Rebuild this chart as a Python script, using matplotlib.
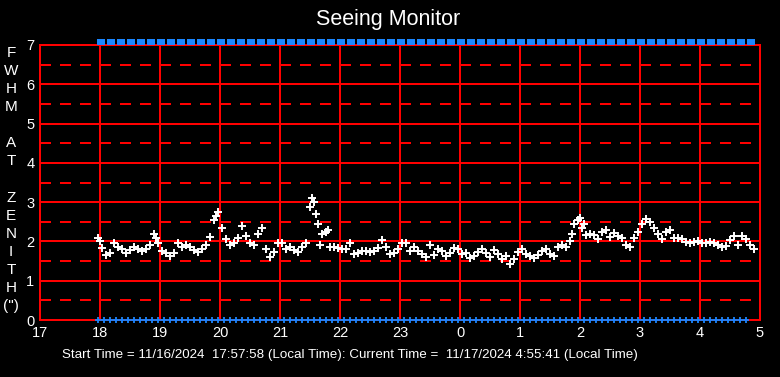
import numpy as np
import matplotlib.pyplot as plt

plt.rcParams['font.family'] = ['Liberation Sans', 'DejaVu Sans']

# seeing samples, every 4 minutes starting 17:58 (minutes after 18:00)
t_start = -2
t_step = 4
fwhm = [2.1, 1.83, 1.65, 1.7, 1.95, 1.87, 1.8, 1.7, 1.78, 1.85, 1.82, 1.75, 1.8, 1.9, 2.2, 1.95,
        1.75, 1.7, 1.62, 1.7, 1.95, 1.85, 1.9, 1.85, 1.77, 1.72, 1.8, 1.92, 2.12, 2.55, 2.75,
        2.35, 2.05, 1.92, 1.95, 2.1, 2.4, 2.15, 1.95, 1.9, 2.2, 2.33, 1.8, 1.6, 1.72, 1.97,
        1.95, 1.82, 1.87, 1.78, 1.72, 1.87, 1.95, 2.87, 3.0, 2.45, 2.2, 2.25, 1.85, 1.85, 1.83,
        1.8, 1.8, 1.95, 1.68, 1.7, 1.75, 1.75, 1.73, 1.75, 1.83, 2.04, 1.85, 1.67, 1.7, 1.8,
        1.97, 1.95, 1.75, 1.85, 1.75, 1.68, 1.6, 1.92, 1.65, 1.8, 1.75, 1.62, 1.7, 1.83, 1.8,
        1.67, 1.7, 1.58, 1.63, 1.72, 1.82, 1.7, 1.6, 1.78, 1.67, 1.55, 1.62, 1.42, 1.55, 1.72,
        1.8, 1.68, 1.62, 1.58, 1.65, 1.75, 1.82, 1.68, 1.62, 1.87, 1.92, 1.85, 2.0, 2.45, 2.55,
        2.35, 2.17, 2.18, 2.17, 2.05, 2.25, 2.3, 2.12, 2.22, 2.15, 2.1, 1.92, 1.85, 2.1, 2.25,
        2.45, 2.58, 2.5, 2.35, 2.2, 2.05, 2.25, 2.3, 2.1, 2.08, 2.05, 1.98, 1.96, 1.98, 2.02,
        1.97, 1.95, 1.98, 1.97, 1.9, 1.87, 1.88, 2.03, 2.15, 1.9, 2.15, 2.05, 1.9, 1.82]

# a few stray samples (minutes after 18:00)
extra_t = [0, 56, 116, 212, 216, 220, 228, 472, 480, 484]
extra_v = [2.0, 2.1, 2.65, 3.1, 2.7, 1.92, 2.3, 2.2, 2.6, 2.45]

hour_labels = ['17', '18', '19', '20', '21', '22', '23', '0', '1', '2', '3', '4', '5']
ylabel = 'FWHM AT ZENITH'
start_txt = '11/16/2024  17:57:58'
current_txt = '11/17/2024 4:55:41'

red = '#ff0000'
blue = '#1a86ff'

x = 18 + (t_start + t_step * np.arange(len(fwhm))) / 60.0
xe = 18 + np.array(extra_t) / 60.0

fig = plt.figure(figsize=(7.8, 3.77), dpi=100, facecolor='black')
ax = fig.add_axes([40/780, 1-320/377, 720/780, 275/377], facecolor='black')
ax.set_xlim(17, 29)
ax.set_ylim(0, 7)

# grid
for y in range(1, 7):
    ax.axhline(y, color=red, lw=1.44, zorder=1)
for y in np.arange(0.5, 7, 1.0):
    ax.axhline(y, color=red, lw=1.44, ls=(0, (5.5, 4.5)), zorder=1)
for h in range(18, 29):
    ax.axvline(h, color=red, lw=1.44, zorder=1)
for s in ax.spines.values():
    s.set_color(red)
    s.set_linewidth(1.44)

# status markers along top and bottom
bot_t = np.arange(-2, 651, 6)
ax.plot(18 + bot_t / 60.0, np.zeros(len(bot_t)), '+', color=blue, ms=5, mew=1.3,
        clip_on=False, zorder=4)
top_t = np.arange(1, 652, 10)
rect = [(-1, -0.68), (1, -0.68), (1, 0.68), (-1, 0.68), (-1, -0.68)]
ax.plot(18 + top_t / 60.0, np.full(len(top_t), 7.065), ls='none', marker=rect, ms=6.4,
        color=blue, mew=0, clip_on=False, zorder=4)

ax.plot(x, fwhm, '+', color='white', ms=6, mew=1.4, zorder=3)
ax.plot(xe, extra_v, '+', color='white', ms=6, mew=1.4, zorder=3)

ax.set_xticks(range(17, 30))
ax.set_xticklabels(hour_labels)
ax.set_yticks(range(0, 8))
ax.tick_params(colors='white', length=0, labelsize=10.5, pad=4)

fig.text(0.497, 0.947, 'Seeing Monitor', color='white', fontsize=15.5, ha='center', va='center')
ch = [c for c in ylabel] + ['(")']
for i, c in enumerate(ch):
    fig.text(11/780, 1 - (53 + 18.07 * i) / 377, c, color='white', fontsize=11,
             ha='center', va='center')
fig.text(62/780, 1 - 355/377,
         'Start Time = ' + start_txt + ' (Local Time): Current Time =  ' + current_txt + ' (Local Time)',
         color='white', fontsize=9.6, ha='left', va='center')

fig.savefig('out.png', dpi=100, facecolor='black')
